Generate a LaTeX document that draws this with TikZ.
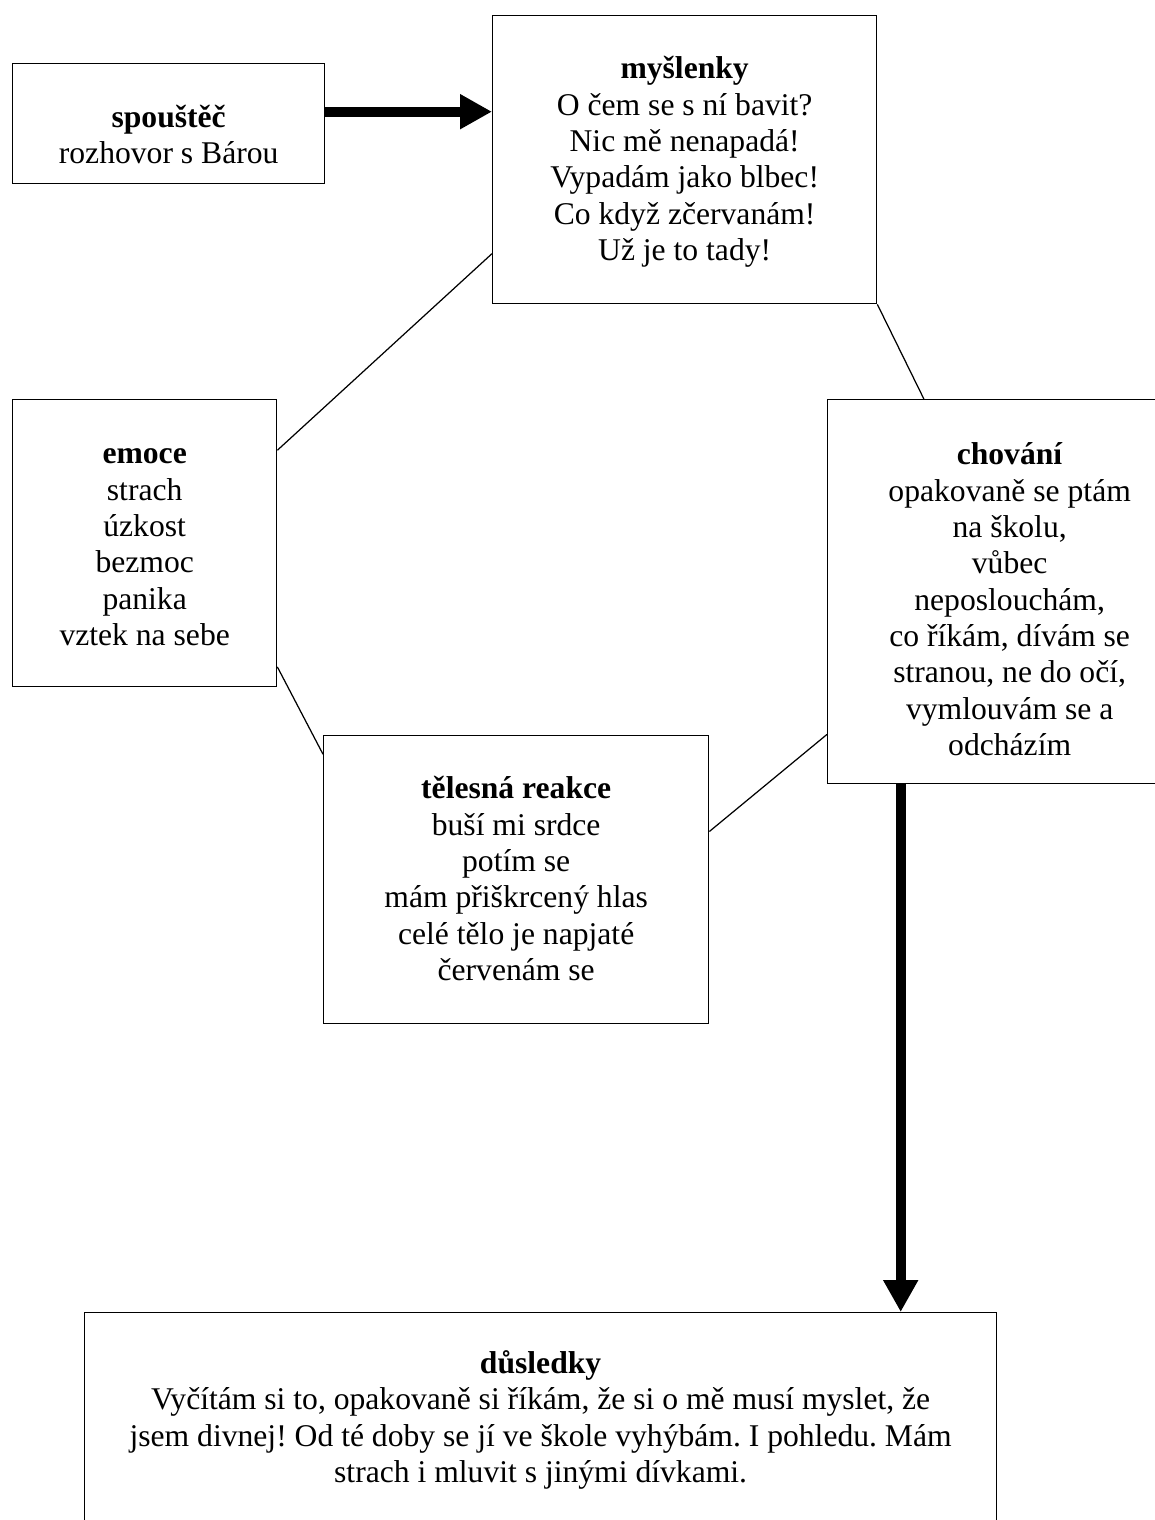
\documentclass[tikz,border=0pt]{standalone}
\usepackage{fontspec}
\setmainfont{Liberation Serif}
\usetikzlibrary{arrows.meta}

\tikzset{
  ramecek/.style={draw, line width=0.8pt, align=center, inner sep=0pt, anchor=north west,
    font={\fontsize{18}{20.7}\selectfont}},
  sipka/.style={line width=5.7pt, -{Triangle[width=0.66cm,length=0.64cm]}},
  spoj/.style={line width=0.7pt}
}

\begin{document}
\frenchspacing
\begin{tikzpicture}[x=0.02cm, y=-0.02cm]
\useasboundingbox (0,0) rectangle (1154,1520);

\begin{scope}[shift={(0,0)}]
        % Rámečky
        \node[ramecek, minimum width=6.24cm, text height=2.0cm, text depth=0.4cm] (spoust) at (12,63)
            {\textbf{spouštěč}\\rozhovor s Bárou};
        \node[ramecek, minimum width=7.68cm, text height=4.9cm, text depth=0.86cm] (mysl) at (492,15)
            {\textbf{myšlenky}\\O čem se s ní bavit?\\Nic mě nenapadá!\\Vypadám jako blbec!\\Co když zčervanám!\\Už je to tady!};
        \node[ramecek, minimum width=5.28cm, text height=4.92cm, text depth=0.82cm] (emoce) at (12,399)
            {\textbf{emoce}\\strach\\úzkost\\bezmoc\\panika\\vztek na sebe};
        \node[ramecek, minimum width=7.28cm, text height=7.12cm, text depth=0.56cm] (chov) at (827,399)
            {\textbf{chování}\\opakovaně se ptám\\na školu,\\vůbec\\neposlouchám,\\co říkám, dívám se\\stranou, ne do očí,\\vymlouvám se a\\odcházím};
        \node[ramecek, minimum width=7.7cm, text height=4.9cm, text depth=0.86cm] (telo) at (323,735)
            {\textbf{tělesná reakce}\\buší mi srdce\\potím se\\mám přiškrcený hlas\\celé tělo je napjaté\\červenám se};
        \node[ramecek, minimum width=18.24cm, text height=3.4cm, text depth=1.16cm] (dusl) at (84,1312)
            {\textbf{důsledky}\\Vyčítám si to, opakovaně si říkám, že si o mě musí myslet, že\\jsem divnej! Od té doby se jí ve škole vyhýbám. I pohledu. Mám\\strach i mluvit s jinými dívkami.};

        % Šipky
        \draw[sipka] ([yshift=0.24cm]spoust.east) -- ([yshift=0.24cm]spoust.east -| mysl.west);
        \draw[sipka] ([xshift=-2.18cm]chov.south) -- ([xshift=-2.18cm]chov.south |- dusl.north);

        % Spojnice
        \draw[spoj] (mysl.206.57) -- (emoce.35.9);
        \draw[spoj] (emoce.317.6) -- (telo.147.85);
        \draw[spoj] (telo.14.3) -- (chov.218.35);
        \draw[spoj] (mysl.south east) -- (chov.114.13);
\end{scope}

\end{tikzpicture}
\end{document}
